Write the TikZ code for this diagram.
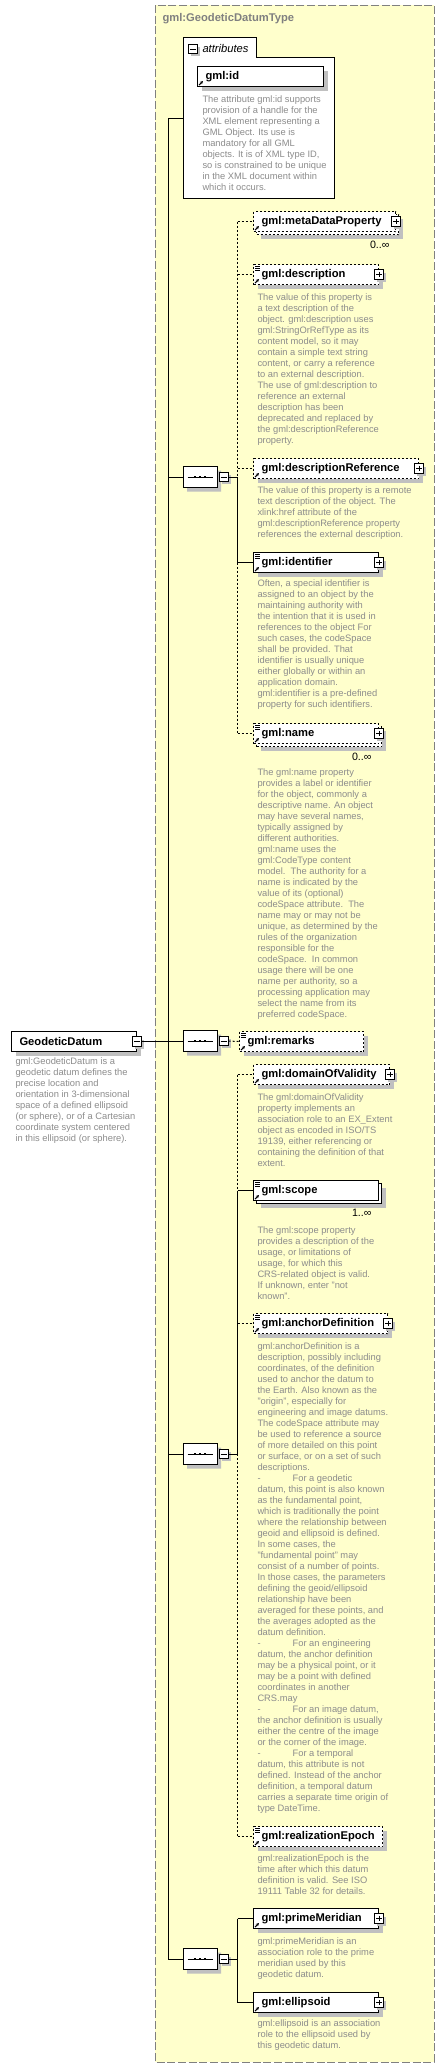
\documentclass[tikz,border=0pt]{standalone}
\usepackage{fontspec}
\setmainfont{Liberation Sans}
\usetikzlibrary{positioning,shadows,shapes.misc,arrows.meta}
\definecolor{typebg}{RGB}{255,255,204}
\definecolor{typeframe}{RGB}{128,128,128}
\definecolor{doctext}{RGB}{140,140,140}
\definecolor{shade}{RGB}{192,192,192}
\newcommand{\elemfont}{\fontsize{8.4pt}{10pt}\selectfont\bfseries\hyphenpenalty=10000\exhyphenpenalty=10000}
\newcommand{\docfont}{\fontsize{7pt}{8.25pt}\selectfont}

\begin{document}
\begin{tikzpicture}[x=0.75pt,y=-0.75pt,line width=0.75pt,
 shad/.style={drop shadow={shadow xshift=3pt,shadow yshift=-3pt,opacity=1,fill=shade}},
 elem/.style={rectangle,draw=black,fill=white,anchor=north west,
   inner xsep=6pt,inner ysep=0pt,minimum height=15pt,text width=#1,
   align=left,font=\elemfont,shad},
 multi/.style={rectangle,draw=black,fill=white,anchor=north west,
   inner xsep=6pt,inner ysep=0pt,minimum height=15pt,text width=#1,
   align=left,font=\elemfont,
   drop shadow={shadow xshift=5.25pt,shadow yshift=-5.25pt,opacity=1,fill=shade},
   copy shadow={shadow xshift=2.25pt,shadow yshift=-2.25pt}},
 opt/.style={dash pattern=on 1.5pt off 1.5pt},
 doc/.style={anchor=north west,inner sep=0pt,align=left,font=\docfont,text=doctext},
 occ/.style={anchor=east,inner sep=0pt,font=\fontsize{8pt}{9pt}\selectfont},
 seq/.style={chamfered rectangle,chamfered rectangle xsep=4.5pt,draw=black,fill=white,
   minimum width=25.5pt,minimum height=15.75pt,inner sep=0pt,shad},
 minus/.style={rectangle,draw=black,fill=white,minimum size=7pt,inner sep=0pt,line width=0.6pt,
   drop shadow={shadow xshift=2pt,shadow yshift=-2pt,opacity=1,fill=shade},
   path picture={\draw ([xshift=1.3pt]path picture bounding box.west) -- ([xshift=-1.3pt]path picture bounding box.east);}},
 plus/.style={rectangle,draw=black,fill=white,minimum size=7pt,inner sep=0pt,line width=0.6pt,
   drop shadow={shadow xshift=2pt,shadow yshift=-2pt,opacity=1,fill=shade},
   path picture={\draw ([xshift=1.3pt]path picture bounding box.west) -- ([xshift=-1.3pt]path picture bounding box.east);
     \draw ([yshift=-1.3pt]path picture bounding box.north) -- ([yshift=1.3pt]path picture bounding box.south);}}]

\fill[white] (0,0) rectangle (445,2068);
\useasboundingbox (0,0) rectangle (445,2068);

% complex type frame
\draw[typeframe,fill=typebg,dash pattern=on 6pt off 2pt] (155,5) rectangle (434,2062);
\node[anchor=west,inner sep=0pt,text=typeframe,font=\fontsize{8.4pt}{10pt}\selectfont\bfseries] (title) at (162,19) {gml:GeodeticDatumType};

% attributes
\node[rectangle,draw=black,fill=white,anchor=north west,minimum width=113.25pt,
  minimum height=105.75pt,inner sep=0pt] (attrs) at (183,57) {};
\node[rectangle,draw=black,fill=white,anchor=south west,minimum width=54.75pt,
  minimum height=14.25pt,inner sep=0pt] (attrs-tab) at (183,57) {};
\draw[white,line width=1.5pt] ([xshift=0.6pt]attrs-tab.south west) -- ([xshift=-0.6pt]attrs-tab.south east);
\node[minus] (attrs-m) at (193,49) {};
\node[anchor=west,inner sep=0pt,font=\fontsize{8.4pt}{10pt}\selectfont\itshape] (attrs-lbl) at (202,48) {attributes};
\node[elem=82.5pt] (id) at (197,66) {gml:id};
\node[doc] (id-doc) at (202,94) {\strut The attribute gml:id supports\\provision of a handle for the\\XML element representing a\\GML Object. Its use is\\mandatory for all GML\\objects. It is of XML type ID,\\so is constrained to be unique\\in the XML document within\\which it occurs.};

% root element
\node[elem=81.75pt] (gd) at (11,1031) {GeodeticDatum};
\node[minus] (gd-m) at (gd.east) {};
\node[doc] (gd-doc) at (15,1056) {\strut gml:GeodeticDatum is a\\geodetic datum defines the\\precise location and\\orientation in 3-dimensional\\space of a defined ellipsoid\\(or sphere), or of a Cartesian\\coordinate system centered\\in this ellipsoid (or sphere).};

% sequences
\node[seq] (seq1) at (200,477) {};
\node[seq] (seq2) at (200,1041) {};
\node[seq] (seq3) at (200,1454) {};
\node[seq] (seq4) at (200,1959) {};
\foreach \s in {seq1,seq2,seq3,seq4}{
  \node[minus,anchor=west] (\s-m) at ([xshift=0.75pt]\s.east) {};
  \draw ([xshift=3.75pt]\s.west) -- ([xshift=-3.75pt]\s.east);
  \foreach \d in {-3.75pt,0pt,3.75pt}
    \fill ([xshift=\d]\s.center) +(-1.1pt,-0.8pt) rectangle +(1.1pt,0.8pt);
}

% first sequence
\node[multi=94.5pt,opt] (meta) at (253,211) {gml:metaDataProperty};
\node[occ] (meta-occ) at (390,245) {0..∞};
\node[elem=81.75pt,opt] (desc) at (253,264) {gml:description};
\node[doc] (desc-doc) at (257,292) {\strut The value of this property is\\a text description of the\\object. gml:description uses\\gml:StringOrRefType as its\\content model, so it may\\contain a simple text string\\content, or carry a reference\\to an external description.\\The use of gml:description to\\reference an external\\description has been\\deprecated and replaced by\\the gml:descriptionReference\\property.};
\node[elem=111.75pt,opt] (descref) at (253,458) {gml:descriptionReference};
\node[doc] (descref-doc) at (257,485) {\strut The value of this property is a remote\\text description of the object. The\\xlink:href attribute of the\\gml:descriptionReference property\\references the external description.};
\node[elem=81.75pt] (ident) at (253,552) {gml:identifier};
\node[doc] (ident-doc) at (257,578) {\strut Often, a special identifier is\\assigned to an object by the\\maintaining authority with\\the intention that it is used in\\references to the object For\\such cases, the codeSpace\\shall be provided. That\\identifier is usually unique\\either globally or within an\\application domain.\\gml:identifier is a pre-defined\\property for such identifiers.};
\node[multi=81.75pt,opt] (gmlname) at (253,723) {gml:name};
\node[occ] (name-occ) at (372,757) {0..∞};
\node[doc] (name-doc) at (257,767) {\strut The gml:name property\\provides a label or identifier\\for the object, commonly a\\descriptive name. An object\\may have several names,\\typically assigned by\\different authorities.\\gml:name uses the\\gml:CodeType content\\model.\ \ The authority for a\\name is indicated by the\\value of its (optional)\\codeSpace attribute.\ \ The\\name may or may not be\\unique, as determined by the\\rules of the organization\\responsible for the\\codeSpace.\ \ In common\\usage there will be one\\name per authority, so a\\processing application may\\select the name from its\\preferred codeSpace.};

% second sequence
\node[elem=81pt,opt] (remarks) at (239,1031) {gml:remarks};

% third sequence
\node[elem=90pt,opt] (dov) at (253,1064) {gml:domainOfValidity};
\node[doc] (dov-doc) at (257,1092) {\strut The gml:domainOfValidity\\property implements an\\association role to an EX\_Extent\\object as encoded in ISO/TS\\19139, either referencing or\\containing the definition of that\\extent.};
\node[multi=81.75pt] (scopeel) at (253,1180) {gml:scope};
\node[occ] (scope-occ) at (372,1213) {1..∞};
\node[doc] (scope-doc) at (257,1225) {\strut The gml:scope property\\provides a description of the\\usage, or limitations of\\usage, for which this\\CRS-related object is valid.\\If unknown, enter "not\\known".};
\node[elem=88.5pt,opt] (anchordef) at (253,1313) {gml:anchorDefinition};
\node[doc] (anchordef-doc) at (257,1341) {\strut gml:anchorDefinition is a\\description, possibly including\\coordinates, of the definition\\used to anchor the datum to\\the Earth. Also known as the\\"origin", especially for\\engineering and image datums.\\The codeSpace attribute may\\be used to reference a source\\of more detailed on this point\\or surface, or on a set of such\\descriptions.\\-\hspace{24pt}For a geodetic\\datum, this point is also known\\as the fundamental point,\\which is traditionally the point\\where the relationship between\\geoid and ellipsoid is defined.\\In some cases, the\\"fundamental point" may\\consist of a number of points.\\In those cases, the parameters\\defining the geoid/ellipsoid\\relationship have been\\averaged for these points, and\\the averages adopted as the\\datum definition.\\-\hspace{24pt}For an engineering\\datum, the anchor definition\\may be a physical point, or it\\may be a point with defined\\coordinates in another\\CRS.may\\-\hspace{24pt}For an image datum,\\the anchor definition is usually\\either the centre of the image\\or the corner of the image.\\-\hspace{24pt}For a temporal\\datum, this attribute is not\\defined. Instead of the anchor\\definition, a temporal datum\\carries a separate time origin of\\type DateTime.};
\node[elem=84.75pt,opt] (epoch) at (253,1826) {gml:realizationEpoch};
\node[doc] (epoch-doc) at (257,1853) {\strut gml:realizationEpoch is the\\time after which this datum\\definition is valid. See ISO\\19111 Table 32 for details.};

% fourth sequence
\node[elem=81.75pt] (pmer) at (253,1908) {gml:primeMeridian};
\node[doc] (pmer-doc) at (257,1936) {\strut gml:primeMeridian is an\\association role to the prime\\meridian used by this\\geodetic datum.};
\node[elem=81.75pt] (ell) at (253,1992) {gml:ellipsoid};
\node[doc] (ell-doc) at (257,2018) {\strut gml:ellipsoid is an association\\role to the ellipsoid used by\\this geodetic datum.};

\foreach \n in {meta,desc,descref,ident,gmlname,dov,anchordef,pmer,ell}
  \node[plus] (\n-p) at (\n.east) {};

% small icons
\foreach \n in {id,meta,desc,descref,ident,gmlname,remarks,dov,scopeel,anchordef,epoch,pmer,ell}
  \draw[-{Stealth[length=2.4pt,width=2.4pt]},line width=0.8pt] ([shift={(2,-2)}]\n.south west) -- ++(4,-4);
\foreach \n in {desc,ident,gmlname,remarks,scopeel,anchordef,epoch}
  \foreach \k in {2,4,6}
    \draw[line width=0.5pt] ([shift={(2,\k)}]\n.north west) -- ++(5,0);

% connectors
\coordinate (trunk) at (168,118);
\draw (trunk) -- (trunk |- seq4.west);
\draw (trunk) -- (trunk -| attrs.west);
\foreach \s in {seq1,seq3,seq4} \draw (trunk |- \s.west) -- (\s.west);
\draw (gd-m.east) -- (gd-m.east -| seq2.west);

\coordinate (s1) at ([xshift=6.75pt]seq1-m.east);
\draw (seq1-m.east) -- (s1);
\draw[opt] (s1 |- meta.west) -- (s1);
\draw (s1) -- (s1 |- ident.west);
\draw[opt] (s1 |- ident.west) -- (s1 |- gmlname.west);
\foreach \n in {meta,desc,descref,gmlname} \draw[opt] (s1 |- \n.west) -- (\n.west);
\draw (s1 |- ident.west) -- (ident.west);

\draw[opt] (seq2-m.east) -- (remarks.west);

\coordinate (s3) at ([xshift=6.75pt]seq3-m.east);
\draw (seq3-m.east) -- (s3);
\draw[opt] (s3 |- dov.west) -- (s3 |- scopeel.west);
\draw (s3 |- scopeel.west) -- (s3);
\draw[opt] (s3) -- (s3 |- epoch.west);
\foreach \n in {dov,anchordef,epoch} \draw[opt] (s3 |- \n.west) -- (\n.west);
\draw (s3 |- scopeel.west) -- (scopeel.west);

\coordinate (s4) at ([xshift=6.75pt]seq4-m.east);
\draw (seq4-m.east) -- (s4);
\draw (s4 |- pmer.west) -- (s4 |- ell.west);
\foreach \n in {pmer,ell} \draw (s4 |- \n.west) -- (\n.west);
\end{tikzpicture}
\end{document}
